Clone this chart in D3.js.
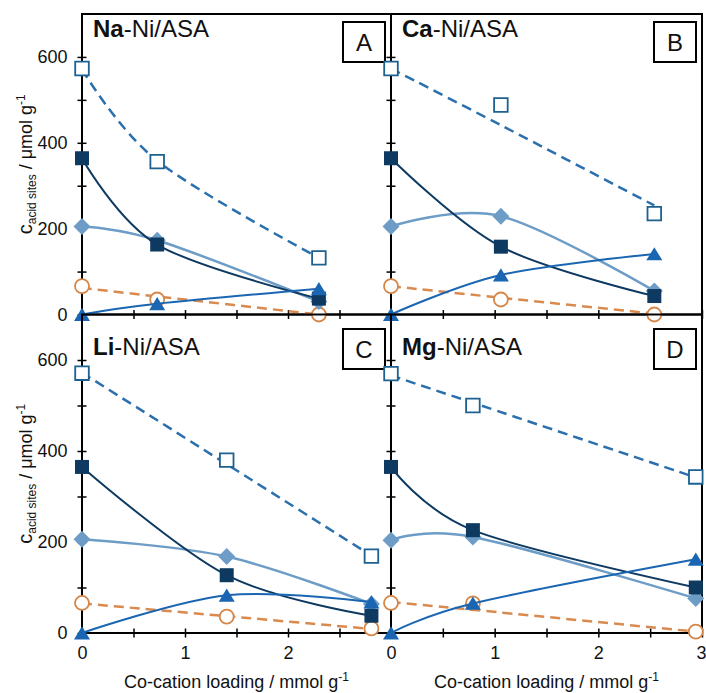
<!DOCTYPE html>
<html>
<head>
<meta charset="utf-8">
<script src="https://cdn.jsdelivr.net/npm/d3@7"></script>
<style>
  body { margin: 0; background: #fff; }
  svg { display: block; font-family: "Liberation Sans", Arial, sans-serif; }
</style>
</head>
<body>
<svg id="chart" width="706" height="693"></svg>
<script>
// panel data
const panelLetters = ["A", "B", "C", "D"];
const cations = ["Na", "Ca", "Li", "Mg"];
const loading = [[0, 0.73, 2.3], [0, 1.06, 2.54], [0, 1.405, 2.81], [0, 0.79, 2.94]];
const openSquare = [[573, 356, 132], [573, 488, 235], [571, 380, 169], [570, 500, 343]];
const openTrend = [[571, 358, 132], [573, 441, 254], [572, 371, 170], [566, 506, 342]];
const filledSquare = [[364, 163, 37], [364, 158, 43], [365, 127, 38], [365, 226, 100]];
const diamond = [[205, 173, 30], [205, 229, 55], [206, 168, 64], [204, 211, 76]];
const triangle = [[0, 25, 60], [0, 92, 141], [0, 83, 68], [0, 65, 162]];
const circle = [[66, 35, 0], [66, 35, 0], [66, 36, 10], [66, 65, 3]];
const circleTrend = [[62, 42, 0], [66, 39, 2], [65, 37, 9], [68, 51, 3]];
const yTickLabels = [0, 200, 400, 600];
const xTickLabels = [0, 1, 2, 3];

const svg = d3.select("#chart");
const cols = [[82, 391], [391, 702]];
const rows = [[14, 314.5], [314.5, 633]];
const titleOffset = [23, 40.5];
const boxOffset = [8, 14.5];
const font = "'Liberation Sans', Arial, sans-serif";

const smooth = d3.curveCardinal.tension(0); // Excel-like smoothed line

const shapes = {
  square: (s) => `M${-s},${-s}H${s}V${s}H${-s}Z`,
  diamond: (s) => `M0,${-s}L${s},0L0,${s}L${-s},0Z`,
  triangle: (s) => `M0,${-s * 0.85}L${s},${s * 0.8}L${-s},${s * 0.8}Z`,
};

panelLetters.forEach((letter, i) => {
  const col = i % 2;
  const row = Math.floor(i / 2);
  const x = d3.scaleLinear().domain([0, 3]).range(cols[col]);
  const y = d3.scaleLinear().domain([0, 700]).range([rows[row][1], rows[row][0]]);
  const g = svg.append("g");

  // 左軸 (cross ticks)
  g.append("g")
    .attr("transform", `translate(${cols[col][0]},0)`)
    .call(d3.axisLeft(y).tickValues(d3.range(0, 700, 100)).tickSize(4.5).tickPadding(10)
      .tickFormat((d) => (col === 0 && yTickLabels.includes(d) ? d : "")));
  g.append("g")
    .attr("transform", `translate(${cols[col][0]},0)`)
    .call(d3.axisRight(y).tickValues(d3.range(0, 700, 100)).tickSize(4.5).tickFormat(""));

  // 下軸
  const xVals = d3.range(0, 3.01, 0.5);
  const xBottom = g.append("g")
    .attr("transform", `translate(0,${rows[row][1]})`)
    .call(d3.axisBottom(x).tickValues(xVals).tickSize(4.5).tickPadding(9)
      .tickFormat((d) => {
        if (row === 0 || !xTickLabels.includes(d)) return "";
        if (col === 0 && d === 3) return "";
        return d;
      }));
  g.append("g")
    .attr("transform", `translate(0,${rows[row][1]})`)
    .call(d3.axisTop(x).tickValues(xVals).tickSize(4.5).tickFormat(""));

  g.selectAll(".domain").remove();
  g.selectAll(".tick line").attr("stroke", "#000").attr("stroke-width", 1.5);
  g.selectAll(".tick text").attr("font-size", 18).attr("font-family", font).attr("fill", "#111");
  // 最右邊的 "3" 貼齊畫面邊緣
  xBottom.selectAll(".tick text").filter((d) => d === 3).attr("text-anchor", "end").attr("dx", 4);

  // 外框
  g.append("rect")
    .attr("x", cols[col][0]).attr("y", rows[row][0])
    .attr("width", cols[col][1] - cols[col][0])
    .attr("height", rows[row][1] - rows[row][0])
    .attr("fill", "none").attr("stroke", "#000").attr("stroke-width", 2);

  // series
  const pts = (vals) => vals.map((v, k) => [loading[i][k], v]);
  const line = d3.line().x((d) => x(d[0])).y((d) => y(d[1])).curve(smooth);

  const drawLine = (vals, color, w, dash) => {
    g.append("path")
      .attr("d", line(pts(vals)))
      .attr("fill", "none")
      .attr("stroke", color)
      .attr("stroke-width", w)
      .attr("stroke-dasharray", dash || null);
  };
  const drawMarks = (vals, shape, size, fill, stroke, sw) => {
    g.selectAll(null)
      .data(pts(vals))
      .enter()
      .append("path")
      .attr("transform", (d) => `translate(${x(d[0])},${y(d[1])})`)
      .attr("d", shape === "circle" ? d3.symbol(d3.symbolCircle, Math.PI * size * size)() : shapes[shape](size))
      .attr("fill", fill)
      .attr("stroke", stroke || "none")
      .attr("stroke-width", sw || 0);
  };

  drawLine(circleTrend[i], "#d98a4e", 2.5, "10,6");
  drawMarks(circle[i], "circle", 7, "#fff", "#d5874a", 1.8);

  drawLine(openTrend[i], "#2b70ad", 2.5, "10,6");
  drawMarks(openSquare[i], "square", 6.8, "#fff", "#1d6190", 1.8);

  drawLine(diamond[i], "#6d9dc7", 2.5);
  drawMarks(diamond[i], "diamond", 8.5, "#6d9dc7");

  drawLine(filledSquare[i], "#0e3a62", 2);
  drawMarks(filledSquare[i], "square", 7, "#0e3a62");

  drawLine(triangle[i], "#1a66b2", 2);
  drawMarks(triangle[i], "triangle", 8, "#1a66b2");

  // 標題
  const title = g.append("text")
    .attr("x", cols[col][0] + 11)
    .attr("y", rows[row][0] + titleOffset[row])
    .attr("font-size", 24)
    .attr("font-family", font)
    .attr("fill", "#111");
  title.append("tspan").attr("font-weight", "bold").text(cations[i]);
  title.append("tspan").text("-Ni/ASA");

  // 字母框
  const bx = cols[col][1] - 48;
  const by = rows[row][0] + boxOffset[row];
  g.append("rect")
    .attr("x", bx).attr("y", by).attr("width", 42).attr("height", 40)
    .attr("fill", "#fff").attr("stroke", "#000").attr("stroke-width", 2);
  g.append("text")
    .attr("x", bx + 21).attr("y", by + 29)
    .attr("text-anchor", "middle")
    .attr("font-size", 24)
    .attr("font-family", font)
    .attr("fill", "#111")
    .text(letter);

  // y 軸標題
  if (col === 0) {
    const cy = (rows[row][0] + rows[row][1]) / 2;
    const yt = g.append("text")
      .attr("transform", `translate(32,${cy}) rotate(-90)`)
      .attr("text-anchor", "middle")
      .attr("font-family", font)
      .attr("font-size", 18)
      .attr("fill", "#111");
    yt.append("tspan").attr("font-size", 20).text("c");
    yt.append("tspan").attr("font-size", 12).attr("dy", 4).text("acid sites");
    yt.append("tspan").attr("dy", -4).text(" / μmol g");
    yt.append("tspan").attr("font-size", 12).attr("dy", -7).text("-1");
  }

  // x 軸標題
  if (row === 1) {
    const xt = g.append("text")
      .attr("x", (cols[col][0] + cols[col][1]) / 2)
      .attr("y", 688)
      .attr("text-anchor", "middle")
      .attr("font-family", font)
      .attr("font-size", 18)
      .attr("fill", "#111");
    xt.append("tspan").text("Co-cation loading / mmol g");
    xt.append("tspan").attr("font-size", 12).attr("dy", -7).text("-1");
  }
});
</script>
</body>
</html>
